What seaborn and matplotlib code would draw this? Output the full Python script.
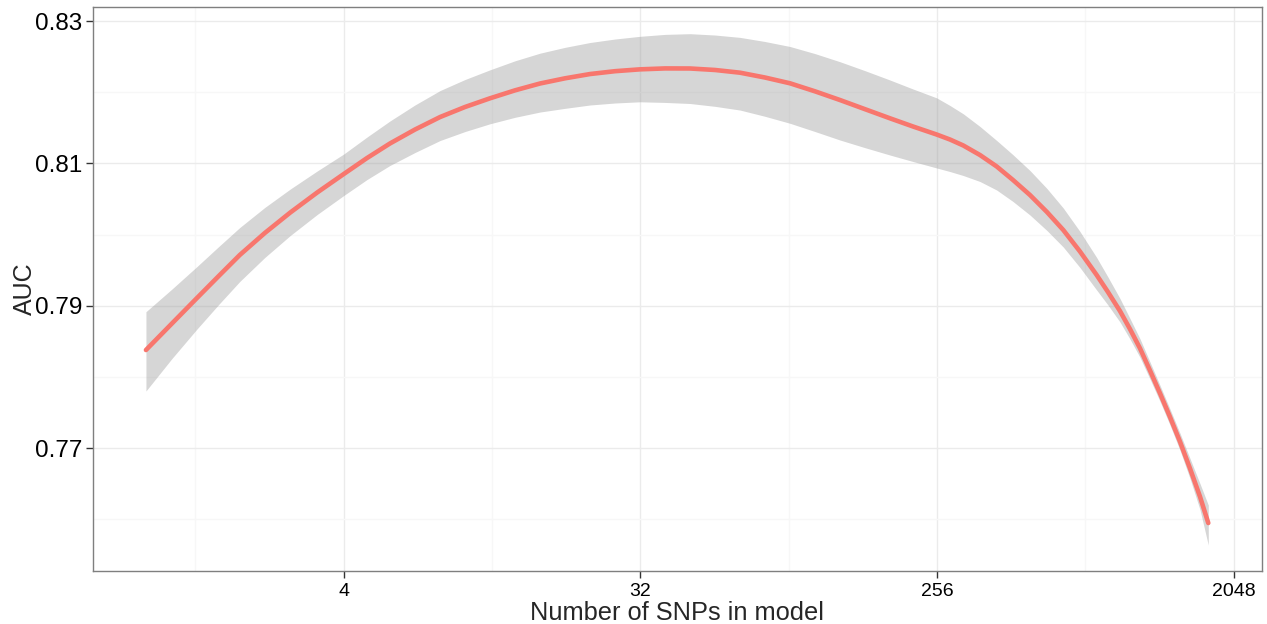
import numpy as np
import pandas as pd
import matplotlib
matplotlib.use('Agg')
import matplotlib.pyplot as plt
import seaborn as sns
from matplotlib.ticker import FixedLocator, NullFormatter, FixedFormatter

# dados (curva suavizada + intervalo de confiança)
n_snps = [1, 1.2, 1.43, 1.66, 1.93, 2.3, 2.75, 3.32, 4, 4.71, 5.53, 6.59, 7.86,
          9.36, 11.15, 13.29, 15.83, 18.87, 22.48, 26.78, 31.91, 38.03, 45.31,
          53.98, 64.32, 76.63, 91.3, 108.8, 129.6, 154.5, 184.0, 216.2, 255.3,
          280.2, 307.6, 345.8, 388.8, 435.8, 490.9, 553.0, 620.0, 697.0, 783.4,
          847.9, 922.4, 989.4, 1061.3, 1138.4, 1221.1, 1309.8, 1404.9, 1507.0,
          1616.5, 1713]
auc = [0.78377, 0.78750, 0.79108, 0.79410, 0.79712, 0.80021, 0.80309, 0.80590,
       0.80850, 0.81075, 0.81279, 0.81475, 0.81651, 0.81792, 0.81914, 0.82026,
       0.82122, 0.82195, 0.82255, 0.82295, 0.82321, 0.82334, 0.82333, 0.82312,
       0.82274, 0.82206, 0.82125, 0.82012, 0.81890, 0.81761, 0.81633, 0.81518,
       0.81405, 0.81335, 0.81251, 0.81117, 0.80956, 0.80766, 0.80555, 0.80316,
       0.80063, 0.79761, 0.79431, 0.79192, 0.78925, 0.78672, 0.78401, 0.78089,
       0.77769, 0.77436, 0.77089, 0.76712, 0.76316, 0.75946]
auc_upper = [0.78915, 0.79234, 0.79550, 0.79825, 0.80098, 0.80380, 0.80639, 0.80892,
             0.81131, 0.81370, 0.81595, 0.81820, 0.82023, 0.82178, 0.82314, 0.82441,
             0.82548, 0.82630, 0.82698, 0.82747, 0.82785, 0.82812, 0.82822, 0.82803,
             0.82770, 0.82712, 0.82642, 0.82542, 0.82428, 0.82302, 0.82171, 0.82045,
             0.81920, 0.81813, 0.81696, 0.81518, 0.81321, 0.81121, 0.80899, 0.80646,
             0.80372, 0.80042, 0.79677, 0.79403, 0.79101, 0.78820, 0.78535, 0.78209,
             0.77881, 0.77548, 0.77208, 0.76853, 0.76499, 0.76199]
auc_lower = [0.77801, 0.78258, 0.78672, 0.79010, 0.79340, 0.79677, 0.79986, 0.80281,
             0.80548, 0.80773, 0.80970, 0.81152, 0.81321, 0.81447, 0.81556, 0.81647,
             0.81721, 0.81773, 0.81820, 0.81848, 0.81865, 0.81856, 0.81841, 0.81801,
             0.81749, 0.81661, 0.81563, 0.81447, 0.81328, 0.81220, 0.81117, 0.81026,
             0.80935, 0.80885, 0.80829, 0.80745, 0.80625, 0.80464, 0.80274, 0.80056,
             0.79824, 0.79536, 0.79220, 0.79010, 0.78771, 0.78532, 0.78275, 0.77970,
             0.77656, 0.77323, 0.76969, 0.76572, 0.76133, 0.75637]

x_ticks = [4, 32, 256, 2048]
x_minor = [2 ** 0.5, 2 ** 3.5, 2 ** 6.5, 2 ** 9.5]
y_ticks = [0.77, 0.79, 0.81, 0.83]
y_minor = [0.76, 0.78, 0.80, 0.82]

df = pd.DataFrame({'n': n_snps, 'auc': auc, 'lo': auc_lower, 'hi': auc_upper})

sns.set_style('white')
plt.rcParams['font.family'] = ['Liberation Sans', 'DejaVu Sans']

fig = plt.figure(figsize=(12.67, 6.24), dpi=100)
ax = fig.add_axes([93 / 1267, 1 - 571 / 624, (1262 - 93) / 1267, (571 - 7) / 624])

ax.set_xscale('log', base=2)
ax.set_xlim(0.690, 2496)
ax.set_ylim(0.75272, 0.83197)

# grade no estilo theme_bw
ax.xaxis.set_major_locator(FixedLocator(x_ticks))
ax.xaxis.set_major_formatter(FixedFormatter([str(t) for t in x_ticks]))
ax.xaxis.set_minor_locator(FixedLocator(x_minor))
ax.xaxis.set_minor_formatter(NullFormatter())
ax.yaxis.set_major_locator(FixedLocator(y_ticks))
ax.yaxis.set_minor_locator(FixedLocator(y_minor))
ax.set_yticklabels([f'{t:.2f}' for t in y_ticks])

ax.grid(which='major', color='#ebebeb', linewidth=1.0)
ax.grid(which='minor', color='#f7f7f7', linewidth=1.0)
ax.set_axisbelow(True)

ax.fill_between(df['n'], df['lo'], df['hi'], color='#999999', alpha=0.4,
                linewidth=0, zorder=2)
sns.lineplot(data=df, x='n', y='auc', color='#F8766D', linewidth=3.3, ax=ax,
             zorder=3)

for s in ax.spines.values():
    s.set_color('#7f7f7f')
    s.set_linewidth(1.0)

ax.tick_params(axis='both', which='major', length=5, width=1, color='#333333',
               bottom=True, left=True)
ax.tick_params(axis='both', which='minor', length=0)
ax.tick_params(axis='x', labelsize=14, pad=4, labelcolor='black')
ax.tick_params(axis='y', labelsize=17.5, pad=3, labelcolor='black')

ax.set_xlabel('Number of SNPs in model', fontsize=18.3, labelpad=0)
ax.set_ylabel('AUC', fontsize=18, labelpad=-2)

fig.savefig('out.png', dpi=100, facecolor='white')
